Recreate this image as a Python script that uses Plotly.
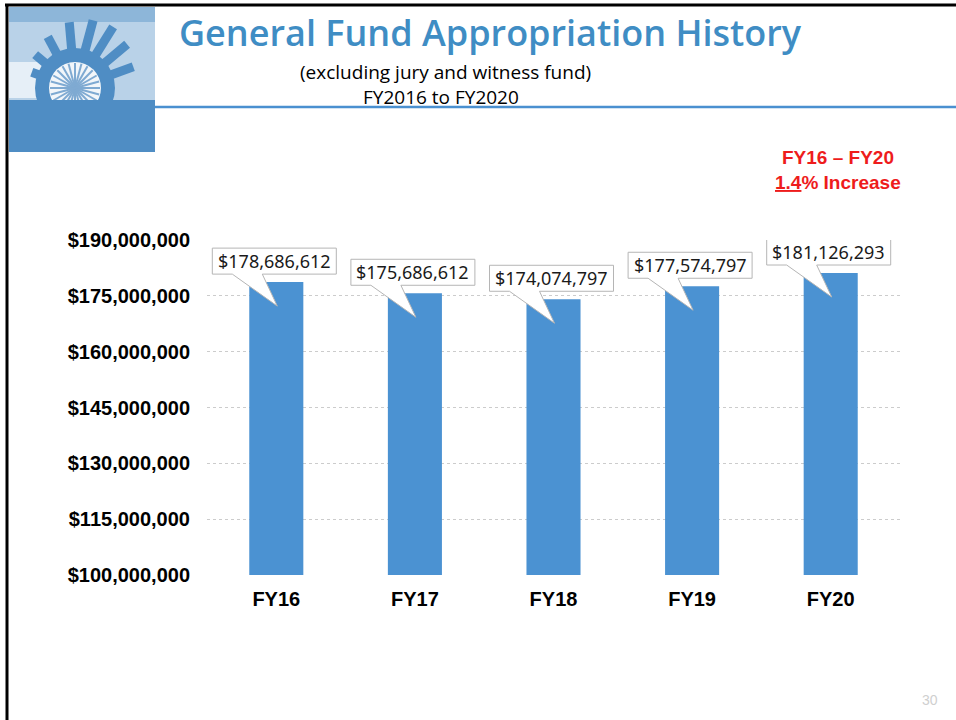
import math
import plotly.graph_objects as go

# ---------------- data ----------------
categories = ["FY16", "FY17", "FY18", "FY19", "FY20"]
appropriations = [178686612, 175686612, 174074797, 177574797, 181126293]
y_ticks = [100000000, 115000000, 130000000, 145000000, 160000000, 175000000, 190000000]
y_tick_labels = ["$100,000,000", "$115,000,000", "$130,000,000", "$145,000,000",
                 "$160,000,000", "$175,000,000", "$190,000,000"]
y_range = [100000000, 190000000]

title_main = "General Fund Appropriation History"
title_sub1 = "(excluding jury and witness fund)"
title_sub2 = "FY2016 to FY2020"
note_line1 = "FY16 \u2013 FY20"
note_line2 = "<u>1.4</u>% Increase"
page_no = "30"

# ---------------- layout constants ----------------
W, H = 956, 720
ML, MR, MT, MB = 207, 56, 240, 145
PW = W - ML - MR
PH = H - MT - MB
BAR_COLOR = "#4b92d2"

xs = list(range(len(categories)))
XU = len(categories) / PW               # x data units per pixel
YU = (y_range[1] - y_range[0]) / PH     # y data units per pixel


def px(x):
    return (x - ML) / PW


def py(y):
    return (H - MB - y) / PH


fig = go.Figure()
fig.add_trace(go.Bar(
    x=xs, y=appropriations, marker=dict(color=BAR_COLOR, line=dict(width=0)),
    hoverinfo="skip", showlegend=False,
))

shapes = []
annotations = []

# callout labels
for i, v in zip(xs, appropriations):
    bottom = v + 8 * YU
    top = bottom + 26 * YU
    left = i - 64 * XU
    right = i + 60 * XU
    b1 = i - 44 * XU
    b2 = i - 14 * XU
    tipx = i + 1 * XU
    tipy = v - 24 * YU
    path = (f"M {left},{top} L {right},{top} L {right},{bottom} L {b2},{bottom} "
            f"L {tipx},{tipy} L {b1},{bottom} L {left},{bottom} Z")
    shapes.append(dict(type="path", xref="x", yref="y", path=path,
                       fillcolor="white", line=dict(color="#b5b5b5", width=1),
                       layer="above"))
    annotations.append(dict(x=i - 2 * XU, y=(bottom + top) / 2, xref="x", yref="y",
                            text=f"${v:,.0f}", showarrow=False,
                            xanchor="center", yanchor="middle",
                            font=dict(family="Noto Sans", size=18, color="#1a1a1a")))

# page border
shapes.append(dict(type="line", xref="paper", yref="paper",
                   x0=px(5), x1=px(956), y0=py(5), y1=py(5),
                   line=dict(color="black", width=3)))
shapes.append(dict(type="line", xref="paper", yref="paper",
                   x0=px(7), x1=px(7), y0=py(5), y1=py(720),
                   line=dict(color="black", width=3)))
# blue header rule
shapes.append(dict(type="line", xref="paper", yref="paper",
                   x0=px(155), x1=px(956), y0=py(107), y1=py(107),
                   line=dict(color="#4a90d0", width=2.5)))

# ---- logo ----
def rect(x0, y0, x1, y1, color):
    return dict(type="rect", xref="paper", yref="paper",
                x0=px(x0), x1=px(x1), y0=py(y0), y1=py(y1),
                fillcolor=color, line=dict(width=0), layer="above")

shapes.append(rect(9, 7, 155, 152, "#b9d2e8"))
shapes.append(rect(9, 7, 155, 22, "#8db6d9"))
shapes.append(rect(9, 62, 60, 98, "#e6eff7"))
cx, cy = 75, 88
for ang, length in [(20, 62), (40, 68), (58, 72), (75, 70), (95, 66), (118, 58), (140, 52), (160, 46)]:
    a = math.radians(ang)
    shapes.append(dict(type="line", xref="paper", yref="paper",
                       x0=px(cx), y0=py(cy),
                       x1=px(cx + length * math.cos(a)), y1=py(cy - length * math.sin(a)),
                       line=dict(color="#4f8dc4", width=9), layer="above"))
shapes.append(dict(type="circle", xref="paper", yref="paper",
                   x0=px(cx - 40), x1=px(cx + 40), y0=py(cy - 40), y1=py(cy + 40),
                   fillcolor="#4f8dc4", line=dict(width=0), layer="above"))
shapes.append(dict(type="circle", xref="paper", yref="paper",
                   x0=px(cx - 26), x1=px(cx + 26), y0=py(cy - 26), y1=py(cy + 26),
                   fillcolor="#f2f6fa", line=dict(width=0), layer="above"))
for k in range(12):
    a = math.radians(k * 15)
    shapes.append(dict(type="line", xref="paper", yref="paper",
                       x0=px(cx - 25 * math.cos(a)), y0=py(cy - 25 * math.sin(a)),
                       x1=px(cx + 25 * math.cos(a)), y1=py(cy + 25 * math.sin(a)),
                       line=dict(color="#7faad2", width=2), layer="above"))
shapes.append(rect(9, 100, 155, 152, "#4f8dc4"))

# ---- header texts ----
def page_text(x, y, text, size, color, family, weight="normal"):
    return dict(x=px(x), y=py(y), xref="paper", yref="paper", text=text,
                showarrow=False, xanchor="center", yanchor="middle", borderpad=0,
                font=dict(family=family, size=size, color=color, weight=weight))

annotations.append(page_text(490, 32, title_main, 36, "#3f8dc4", "Open Sans", 600))
annotations.append(page_text(445, 72, title_sub1, 19, "black", "Open Sans"))
annotations.append(page_text(441, 97, title_sub2, 19, "black", "Open Sans"))
annotations.append(page_text(838, 158, note_line1, 19, "#ee1c1c", "Liberation Sans", "bold"))
annotations.append(page_text(838, 183, note_line2, 19, "#ee1c1c", "Liberation Sans", "bold"))
annotations.append(page_text(930, 700, page_no, 14, "#cfcfcf", "Liberation Sans"))

fig.update_layout(
    width=W, height=H,
    margin=dict(l=ML, r=MR, t=MT, b=MB, pad=0),
    paper_bgcolor="white", plot_bgcolor="white",
    bargap=0.61,
    shapes=shapes, annotations=annotations,
    xaxis=dict(range=[-0.5, len(categories) - 0.5], tickvals=xs, ticktext=categories,
               showgrid=False, zeroline=False, showline=False, ticks="",
               ticklabelstandoff=10,
               tickfont=dict(family="Liberation Sans", size=20, color="black", weight="bold")),
    yaxis=dict(range=y_range, tickvals=y_ticks, ticktext=y_tick_labels,
               showgrid=True, gridcolor="#cccccc", griddash="dot", gridwidth=1,
               zeroline=False, showline=False, ticks="", ticklabelstandoff=16,
               tickfont=dict(family="Liberation Sans", size=20, color="black", weight="bold")),
)

fig.write_html("out.html", config={"displayModeBar": False},
               post_script="document.body.style.margin='0px';document.body.style.overflow='hidden';")
